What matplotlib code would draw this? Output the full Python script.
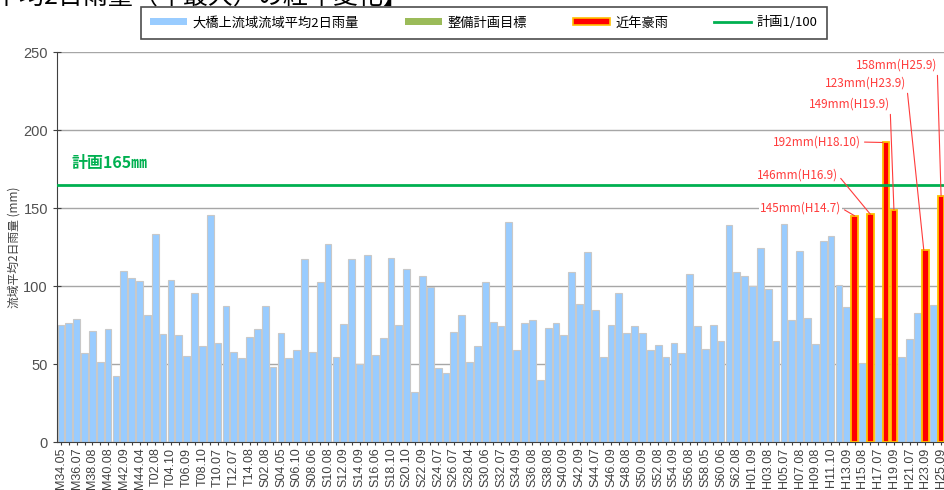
import matplotlib
matplotlib.use("Agg")
import matplotlib.pyplot as plt
from matplotlib.patches import Patch
from matplotlib.lines import Line2D

plt.rcParams['font.family'] = ['Noto Sans CJK JP', 'DejaVu Sans']

# annual max 2-day basin rainfall (mm), 1901 (M34) .. 2013 (H25)
rain = [75, 76, 79, 57, 71, 51.5, 72.6, 42.5, 109.6, 105.3,
        103.2, 81.2, 133.5, 69.2, 104, 68.6, 54.9, 95.7, 61.5, 145.5,
        63.7, 87, 57.9, 53.8, 67.1, 72.6, 87, 48.1, 70, 53.8,
        58.8, 117.3, 57.9, 102.4, 127.1, 54.7, 75.6, 117.3, 50.2, 119.9,
        55.6, 66.9, 118.2, 75, 111.1, 32.3, 106.2, 99.6, 47.6, 44.4,
        70.7, 81.4, 51.5, 61.3, 102.4, 77.1, 74.1, 140.8, 58.8, 76.5,
        78.2, 39.5, 73.3, 76.5, 68.6, 108.8, 88.5, 121.6, 84.4, 54.7,
        75, 95.7, 70.1, 74.1, 70.1, 58.8, 62.2, 54.7, 63.7, 57.3,
        107.9, 74.1, 59.6, 75, 64.5, 139.1, 108.8, 106.4, 100, 124.1,
        98.1, 64.5, 140, 78.2, 122.4, 79.7, 62.8, 128.8, 132.1, 100.6,
        86.8, 145, 50.4, 146, 79.7, 192, 149, 54.7, 66.2, 82.5,
        123, 87.8, 158]

# every second bar carries a label
tick_labels = ["M34.05", "M36.07", "M38.08", "M40.08", "M42.09", "M44.04",
               "T02.08", "T04.10", "T06.09", "T08.10", "T10.07", "T12.07", "T14.08",
               "S02.08", "S04.05", "S06.10", "S08.06", "S10.08", "S12.09", "S14.09",
               "S16.06", "S18.10", "S20.10", "S22.09", "S24.07", "S26.07", "S28.04",
               "S30.06", "S32.07", "S34.09", "S36.08", "S38.08", "S40.09", "S42.09",
               "S44.07", "S46.09", "S48.08", "S50.09", "S52.08", "S54.09", "S56.08",
               "S58.05", "S60.06", "S62.08", "H01.09", "H03.08", "H05.07", "H07.08",
               "H09.08", "H11.10", "H13.09", "H15.08", "H17.07", "H19.09", "H21.07",
               "H23.09", "H25.09"]

# recent heavy rains (index into rain)
heavy_idx = [101, 103, 105, 106, 110, 112]
heavy_text = ["145mm(H14.7)", "146mm(H16.9)", "192mm(H18.10)",
              "149mm(H19.9)", "123mm(H23.9)", "158mm(H25.9)"]
plan_level = 165

BLUE = "#99CCFF"
RED = "#FF0000"
ORANGE = "#FFC000"
GREEN = "#00B050"
OLIVE = "#9BBB59"
TXT_RED = "#FF3B3B"

n = len(rain)
xs = list(range(n))
blue_x = [i for i in xs if i not in heavy_idx]
blue_v = [rain[i] for i in blue_x]
red_v = [rain[i] for i in heavy_idx]

fig = plt.figure(figsize=(9.45, 4.9), dpi=100)
ax = fig.add_axes([57/945, 48/490, 888/945, 390/490])

ax.bar(blue_x, blue_v, width=0.86, color=BLUE, edgecolor="#C8C8C8", linewidth=0.8, zorder=2)
ax.bar(heavy_idx, red_v, width=0.82, color=RED, edgecolor=ORANGE, linewidth=1.3, zorder=3)
ax.axhline(plan_level, color=GREEN, lw=2, zorder=4)

ax.set_xlim(-0.5, n - 0.5)
ax.set_ylim(0, 250)
ax.set_yticks(range(0, 251, 50))
ax.yaxis.grid(True, color="#A6A6A6", lw=1)
ax.set_axisbelow(True)
for s in ["top", "right"]:
    ax.spines[s].set_visible(False)
ax.spines["left"].set_color("#404040")
ax.spines["bottom"].set_color("#404040")

ax.set_xticks(xs[::2])
ax.set_xticklabels(tick_labels, rotation=90, fontsize=9, family="Liberation Sans", color="#404040")
ax.set_xticks(xs[1::2], minor=True)
ax.tick_params(axis="x", which="both", direction="inout", length=4, width=0.8, color="#404040", pad=2)
ax.tick_params(axis="y", direction="inout", length=6, width=0.8, color="#404040", labelsize=10.5,
               labelcolor="#505050")
for t in ax.get_yticklabels():
    t.set_family("Liberation Sans")

ax.set_ylabel("流域平均2日雨量 (mm)", fontsize=8.5, color="#404040", labelpad=2)

ax.text(1.4, 179, f"計画{plan_level}㎜", color=GREEN, fontsize=11.5, fontweight="bold", va="center")

# text anchor points (right end of each label), data coords
txt_pos = [(99.3, 150), (98.9, 171), (101.8, 192.3), (105.5, 216.5), (107.6, 230), (111.5, 241.5)]
tip_dx = [0, 0, -0.4, 0, -0.2, 0]
for i, lab, (tx, ty), dx in zip(heavy_idx, heavy_text, txt_pos, tip_dx):
    ax.annotate(lab, xy=(i + dx, rain[i]), xytext=(tx, ty), ha="right", va="center",
                fontsize=8.5, color=TXT_RED, zorder=6,
                bbox=dict(fc="white", ec="none", pad=0.6),
                arrowprops=dict(arrowstyle="-", color=TXT_RED, lw=0.8, relpos=(1, 0.5),
                                shrinkA=2, shrinkB=0))

# partly cut-off title
fig.text(408/945, 1.006, "流域平均2日雨量（年最大）の経年変化】", ha="right", va="center",
         fontsize=18)

handles = [Patch(fc=BLUE, ec="none"), Patch(fc=OLIVE, ec="none"),
           Patch(fc=RED, ec=ORANGE, lw=1.2), Line2D([], [], color=GREEN, lw=2)]
labels = ["大橋上流域流域平均2日雨量", "整備計画目標", "近年豪雨", "計画1/100"]
leg = fig.legend(handles, labels, ncol=4, loc="center", bbox_to_anchor=(484/945, 1 - 23/490),
                 fontsize=9.5, frameon=True, fancybox=False, edgecolor="#202020",
                 handlelength=2.8, handleheight=0.45, columnspacing=3.5, borderpad=0.7,
                 handletextpad=0.4, borderaxespad=0)
leg.get_frame().set_linewidth(1.2)

fig.savefig("out.png", dpi=100)
